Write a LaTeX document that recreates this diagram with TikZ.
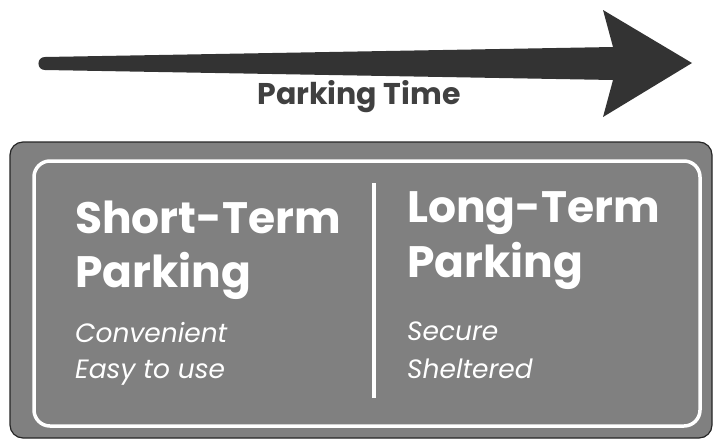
\documentclass[tikz,border=0pt]{standalone}
\usepackage{fontspec}
\setmainfont{Poppins}
\begin{document}
\begin{tikzpicture}[x=1pt,y=-1pt,
  title/.style={anchor=base west,inner sep=0pt,text=white,font=\fontsize{44}{44}\selectfont\bfseries},
  sub/.style={anchor=base west,inner sep=0pt,text=white,font=\fontsize{26.5}{26.5}\selectfont\itshape},
  boxfill/.style={fill=boxgray,draw=black!85,line width=1.2pt,rounded corners=13pt},
  innerframe/.style={draw=white,line width=3.5pt,rounded corners=16pt},
  divider/.style={draw=white,line width=4pt}]
\definecolor{boxgray}{HTML}{808080}
\definecolor{arrowgray}{HTML}{333333}
\definecolor{labelgray}{HTML}{404040}
\useasboundingbox (0,0) rectangle (714,440);
% tapered arrow
\fill[arrowgray] (45,57) -- (613,47) -- (603,10) -- (692,63) -- (603,117) -- (613,80) -- (45,70)
  .. controls (36.3,70) and (36.3,57) .. (45,57) -- cycle;
\node[anchor=base,inner sep=0pt,text=labelgray,font=\fontsize{30}{30}\selectfont\bfseries] (time) at (359,104) {Parking Time};
% box
\path[boxfill] (10,142) rectangle (712,438);
\path[innerframe] (34,161) rectangle (700,426);
\coordinate (dtop) at (374,183);
\coordinate (dbot) at (374,398);
\path[divider] (dtop) -- (dbot);
% left column
\node[title] (st1) at (75,233) {Short-Term};
\node[title] (st2) at (75,287) {Parking};
\node[sub] (st3) at (75,342) {Convenient};
\node[sub] (st4) at (75,378) {Easy to use};
% right column
\node[title] (lt1) at (407,222) {Long-Term};
\node[title] (lt2) at (407,277) {Parking};
\node[sub] (lt3) at (407,340) {Secure};
\node[sub] (lt4) at (407,378) {Sheltered};
\end{tikzpicture}
\end{document}
